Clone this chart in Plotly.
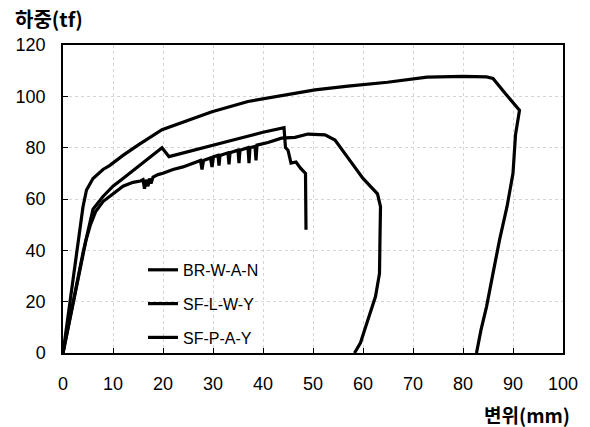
import plotly.graph_objects as go

# Series data (displacement mm, load tf)
br_x = [0, 1, 2, 3, 3.4, 4, 4.7, 6, 8, 9.3, 12, 15, 19.8, 25, 29.8, 37, 45, 50.4, 57, 64.9, 72.8, 80, 84.7, 86, 88.5, 91.3, 90.5, 90, 88.8, 87.3, 86, 84.7, 83.6, 82.7]
br_y = [0, 14, 29, 42, 47, 57, 63.5, 68, 71.5, 73, 77, 81, 87, 90.5, 94, 98, 100.5, 102.5, 104, 105.5, 107.5, 107.8, 107.6, 107, 101, 94.6, 85, 70, 57, 44, 31, 18, 9, 0]

sfl_x = [0, 1, 2, 3, 4, 4.7, 6, 8, 10, 12, 14, 17.3, 19.8, 21.2, 25, 30, 35, 40, 43.7, 44.2, 44.5, 45, 45.6, 46.6, 47.5, 48.5, 48.6]
sfl_y = [0, 10, 20, 30, 39, 45, 56, 61, 65, 68, 71, 76, 80, 76.5, 78.5, 81, 83.5, 86, 87.8, 87.8, 80, 79, 74, 74.4, 72, 70, 48]

sfp_x = [0, 1.5, 3, 4.6, 5.5, 6.5, 8, 10, 12, 14, 15.5, 16, 16.3, 16.6, 17, 17.3, 17.6, 18, 19, 20, 22, 24, 26, 27.5, 27.8, 28.1, 29.5, 29.8, 30.1, 31, 31.2, 31.4, 33, 33.2, 33.4, 35, 35.2, 35.4, 37, 37.2, 37.4, 38.4, 38.6, 38.8, 41, 43.7, 46.4, 49, 52.4, 54.4, 57, 60, 62.9, 63.5, 63.4, 63.3, 62.5, 61.5, 60.5, 59.5, 58.3]
sfp_y = [0, 14, 29, 44, 50, 55, 59, 62, 65, 66.5, 67, 67.5, 64, 67.5, 65, 68, 66, 68.5, 69.5, 70, 71.5, 72.5, 74, 75, 71.5, 75, 76, 72.5, 76.5, 77, 73, 77, 78, 73.5, 78, 79, 74, 79, 80, 74, 80, 80.5, 75, 81, 82, 83.7, 84, 85.3, 85, 83, 76, 68, 62, 57, 45, 31, 22, 15.6, 10, 4, 0]

series_names = ["BR-W-A-N", "SF-L-W-Y", "SF-P-A-Y"]
x_ticks = [0, 10, 20, 30, 40, 50, 60, 70, 80, 90, 100]
y_ticks = [0, 20, 40, 60, 80, 100, 120]

fig = go.Figure()
for xs, ys, nm in [(br_x, br_y, series_names[0]),
                   (sfl_x, sfl_y, series_names[1]),
                   (sfp_x, sfp_y, series_names[2])]:
    fig.add_trace(go.Scatter(x=xs, y=ys, mode="lines", name=nm,
                             legendgroup=nm,
                             line=dict(color="black", width=3.2)))

axis_common = dict(
    showline=True, linecolor="black", linewidth=1.5, mirror=True,
    ticks="inside", ticklen=5, tickcolor="black",
    showgrid=True, gridcolor="#d4d4d4", griddash="dot", gridwidth=1,
    zeroline=False,
    tickfont=dict(family="Liberation Sans, Arial", size=18, color="black"),
)

fig.update_xaxes(range=[0, 100], tickvals=x_ticks, ticklabelstandoff=14, **axis_common)
fig.update_yaxes(range=[0, 120], tickvals=y_ticks, ticklabelstandoff=12, **axis_common)

fig.update_layout(
    width=590, height=427,
    margin=dict(l=63, r=23, t=45, b=74),
    paper_bgcolor="white", plot_bgcolor="white",
    showlegend=True,
    legend=dict(x=0.16, y=0.325, xanchor="left", yanchor="top",
                bgcolor="rgba(0,0,0,0)", traceorder="grouped",
                tracegroupgap=10,
                font=dict(family="Liberation Sans, Arial", size=16, color="black")),
    annotations=[
        dict(text="<b>하중(tf)</b>", xref="paper", yref="paper",
             x=-0.101, y=1.0, xanchor="left", yanchor="middle", yshift=27,
             showarrow=False,
             font=dict(family="Noto Sans CJK KR", size=20, color="black")),
        dict(text="<b>변위(mm)</b>", xref="paper", yref="paper",
             x=1.018, y=0, xanchor="right", yanchor="middle", yshift=-61,
             showarrow=False,
             font=dict(family="Noto Sans CJK KR", size=19, color="black")),
    ],
)

fig.write_html("out.html")
